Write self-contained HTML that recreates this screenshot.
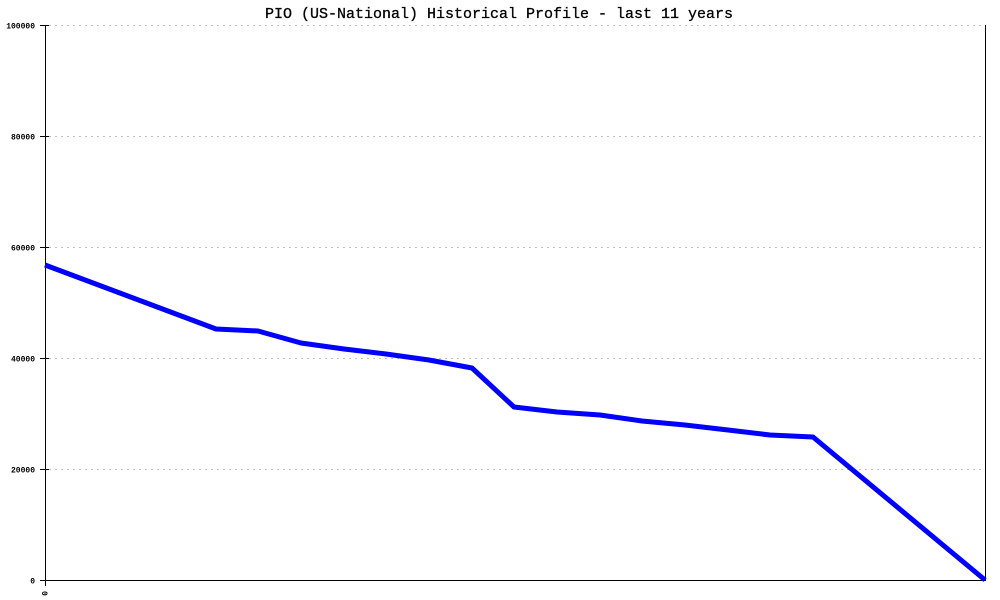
<!DOCTYPE html>
<html><head><meta charset="utf-8"><style>
html,body{margin:0;padding:0;background:#fff;width:1000px;height:600px;overflow:hidden}
svg{display:block}
.t{font-family:"Liberation Mono",monospace;font-size:8px;font-weight:bold;fill:#000}
</style></head><body>
<svg width="1000" height="600" viewBox="0 0 1000 600" xmlns="http://www.w3.org/2000/svg">
<text x="499" y="18" text-anchor="middle" font-family="Liberation Mono, monospace" font-size="15" fill="#000" stroke="#000" stroke-width="0.3">PIO (US-National) Historical Profile - last 11 years</text>
<g stroke="#c0c0c0" stroke-width="1" stroke-dasharray="2,4">
<line x1="49" y1="25.5" x2="985" y2="25.5"/>
<line x1="49" y1="136.5" x2="985" y2="136.5"/>
<line x1="49" y1="247.5" x2="985" y2="247.5"/>
<line x1="49" y1="358.5" x2="985" y2="358.5"/>
<line x1="49" y1="469.5" x2="985" y2="469.5"/>
</g>
<g stroke="#000" stroke-width="1">
<line x1="45.5" y1="25" x2="45.5" y2="586"/>
<line x1="985.5" y1="25" x2="985.5" y2="581"/>
<line x1="45" y1="580.5" x2="986" y2="580.5"/>
<line x1="40" y1="25.5" x2="49" y2="25.5"/>
<line x1="40" y1="136.5" x2="49" y2="136.5"/>
<line x1="40" y1="247.5" x2="49" y2="247.5"/>
<line x1="40" y1="358.5" x2="49" y2="358.5"/>
<line x1="40" y1="469.5" x2="49" y2="469.5"/>
<line x1="40" y1="580.5" x2="49" y2="580.5"/>
</g>
<g class="t" text-anchor="end">
<text class="t" x="35" y="28.5">100000</text>
<text class="t" x="35" y="139.5">80000</text>
<text class="t" x="35" y="250.5">60000</text>
<text class="t" x="35" y="361.5">40000</text>
<text class="t" x="35" y="472.5">20000</text>
<text class="t" x="35" y="583.5">0</text>
</g>
<text class="t" transform="translate(42,591) rotate(90)" x="0" y="0">0</text>
<polyline fill="none" stroke="#0000ff" stroke-width="5" stroke-linejoin="round" points="45,265 216,329 258,331 301,343 344,349 386,354 429,360 472,368 514,407 557,412 600,415 642,421 685,425 728,430 770,435 813,437 985,580"/>
</svg>
</body></html>
